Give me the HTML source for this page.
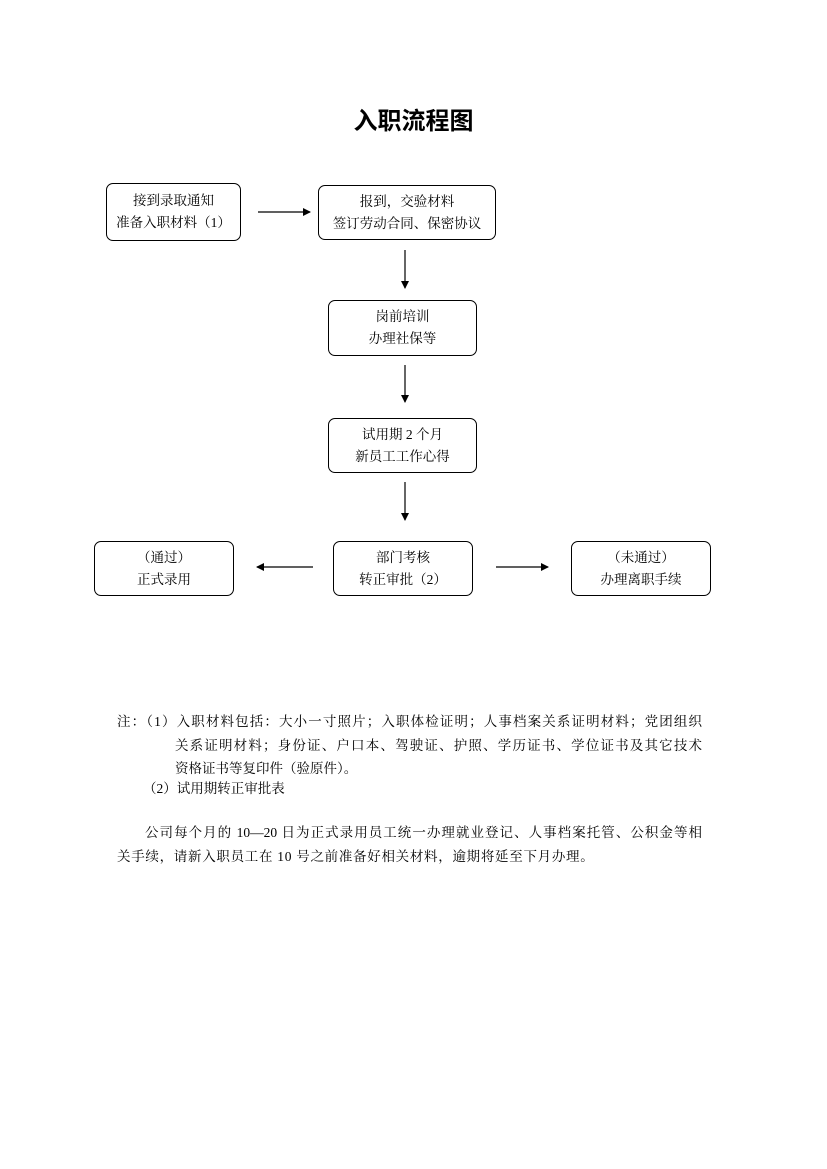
<!DOCTYPE html>
<html><head><meta charset="utf-8"><style>
body{margin:0;width:827px;height:1169px;background:#fff;position:relative;font-family:"Liberation Serif","Noto Serif CJK SC",serif;color:#000;overflow:hidden}
.b{position:absolute;border:1.3px solid #000;border-radius:7px;box-sizing:border-box;display:flex;flex-direction:column;justify-content:center;align-items:center;font-size:13.5px;line-height:22px}
.t{position:absolute;font-size:13.5px;white-space:nowrap;line-height:20px}
.j{text-align:justify;text-align-last:justify;white-space:normal}
svg{position:absolute;left:0;top:0}
</style></head><body>
<div class="t" style="left:0;width:827px;text-align:center;top:107px;font-size:24px;line-height:30px;font-weight:bold;font-family:'Liberation Sans','Noto Sans CJK SC',sans-serif">入职流程图</div>
<div class="b" style="left:106px;top:183px;width:135px;height:58px"><div>接到录取通知</div><div>准备入职材料（1）</div></div>
<div class="b" style="left:318px;top:185px;width:178px;height:55px"><div>报到，交验材料</div><div>签订劳动合同、保密协议</div></div>
<div class="b" style="left:328px;top:300px;width:149px;height:56px"><div>岗前培训</div><div>办理社保等</div></div>
<div class="b" style="left:328px;top:418px;width:149px;height:55px"><div>试用期 2 个月</div><div>新员工工作心得</div></div>
<div class="b" style="left:333px;top:541px;width:140px;height:55px"><div>部门考核</div><div>转正审批（2）</div></div>
<div class="b" style="left:94px;top:541px;width:140px;height:55px"><div>（通过）</div><div>正式录用</div></div>
<div class="b" style="left:571px;top:541px;width:140px;height:55px"><div>（未通过）</div><div>办理离职手续</div></div>
<svg width="827" height="1169"><defs><marker id="a" markerWidth="8" markerHeight="8" refX="7" refY="4" orient="auto" markerUnits="userSpaceOnUse"><path d="M0,0L8,4L0,8z"/></marker></defs>
<g stroke="#000" stroke-width="1.2" marker-end="url(#a)">
<line x1="258" y1="212" x2="310" y2="212"/>
<line x1="405" y1="250" x2="405" y2="288"/>
<line x1="405" y1="365" x2="405" y2="402"/>
<line x1="405" y1="482" x2="405" y2="520"/>
<line x1="313" y1="567" x2="257" y2="567"/>
<line x1="496" y1="567" x2="548" y2="567"/>
</g></svg>
<div class="t j" style="left:117px;top:712px;width:585px">注：（1）入职材料包括：大小一寸照片；入职体检证明；人事档案关系证明材料；党团组织</div>
<div class="t j" style="left:175px;top:736px;width:527px">关系证明材料；身份证、户口本、驾驶证、护照、学历证书、学位证书及其它技术</div>
<div class="t" style="left:175px;top:759px">资格证书等复印件（验原件）。</div>
<div class="t" style="left:143px;top:779px">（2）试用期转正审批表</div>
<div class="t j" style="left:145px;top:823px;width:557px">公司每个月的 10—20 日为正式录用员工统一办理就业登记、人事档案托管、公积金等相</div>
<div class="t" style="left:117px;top:847px;letter-spacing:0.7px">关手续，请新入职员工在 10 号之前准备好相关材料，逾期将延至下月办理。</div>
</body></html>
